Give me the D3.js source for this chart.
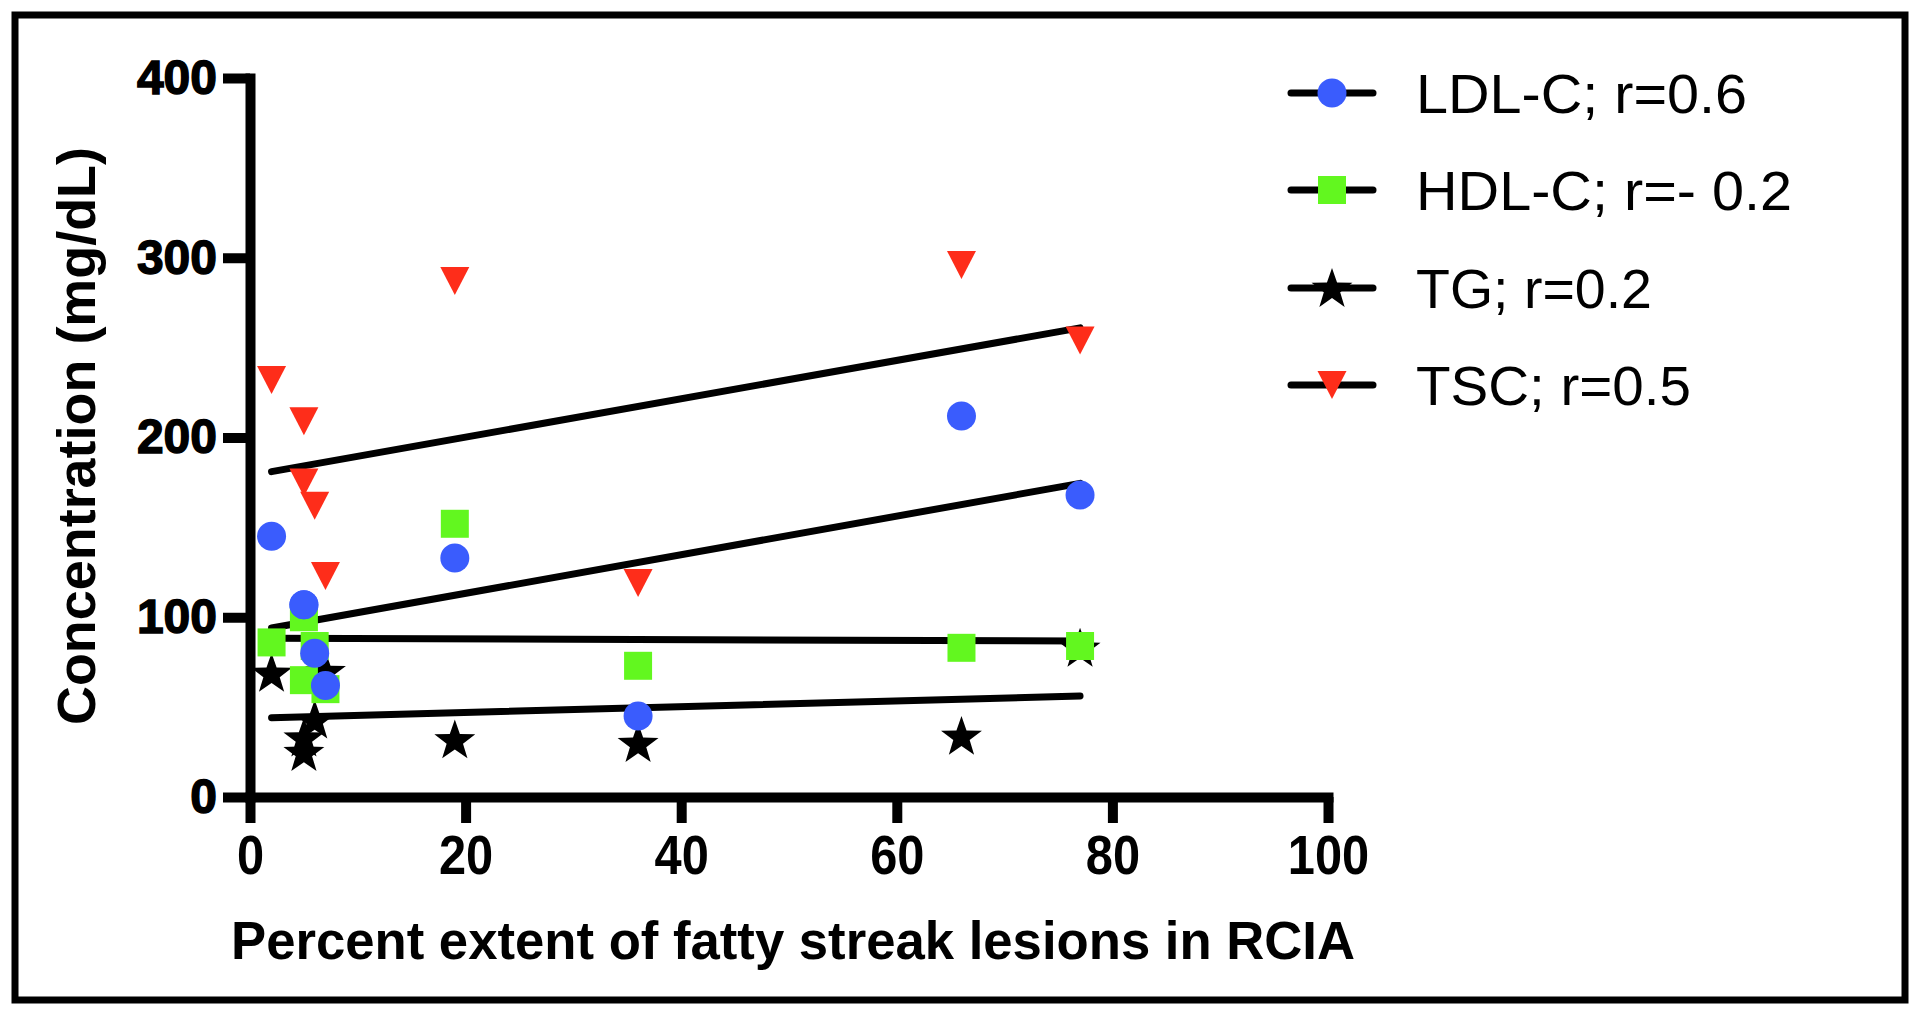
<!DOCTYPE html>
<html><head><meta charset="utf-8">
<script src="https://cdn.jsdelivr.net/npm/d3@7"></script>
<style>body{margin:0;background:#fff} svg{display:block}</style>
</head><body><svg id="c" width="1920" height="1015"></svg>
<script>
// ---- data ----
const xTicks = [0, 20, 40, 60, 80, 100];
const yTicks = [0, 100, 200, 300, 400];
const extent = [2, 5, 5, 6, 7, 19, 36, 66, 77];
const ldl = [145, 107, 107, 80, 62, 133, 45, 212, 168];
const hdl = [86, 100, 65, 84, 60, 152, 73, 83, 84];
const tg  = [69, 33, 25, 43, 70, 32, 30, 34, 83];
const tsc = [232, 209, 175, 162, 123, 287, 119, 296, 254];
const seriesNames = ["LDL-C; r=0.6", "HDL-C; r=- 0.2", "TG; r=0.2", "TSC; r=0.5"];
const fitX = [2, 77];
const ldlFit = [94, 174.5];
const hdlFit = [88.3, 86.8];
const tgFit  = [44.1, 56.2];
const tscFit = [181, 261];
const xTitle = "Percent extent of fatty streak lesions in RCIA";
const yTitle = "Concentration (mg/dL)";

// ---- chart ----
const svg = d3.select("#c");
const FONT = "'Liberation Sans', Arial, sans-serif";
svg.append("rect").attr("x",0).attr("y",0).attr("width",1920).attr("height",1015).attr("fill","#fff");
svg.append("rect").attr("x",15).attr("y",15).attr("width",1890).attr("height",985)
   .attr("fill","none").attr("stroke","#000").attr("stroke-width",7);

const x = d3.scaleLinear().domain([0,100]).range([250,1328]);
const y = d3.scaleLinear().domain([0,400]).range([797,78]);

const colors = {ldl:"#3a5cfd", hdl:"#62f71f", tg:"#000000", tsc:"#fe2d1a"};

function shapePath(kind){
  if(kind==="circle") return d3.symbol().type(d3.symbolCircle).size(Math.PI*14.5*14.5)();
  if(kind==="square") return "M-14,-14H14V14H-14Z";
  if(kind==="tri") return "M-14.5,-14L14.5,-14L0,14Z";
  if(kind==="star"){
    const R=21.5, r=8.6; let p=[];
    for(let i=0;i<10;i++){const a=-Math.PI/2+i*Math.PI/5; const rr=i%2?r:R; p.push([rr*Math.cos(a), rr*Math.sin(a)+1.5]);}
    return "M"+p.map(d=>d[0].toFixed(2)+","+d[1].toFixed(2)).join("L")+"Z";
  }
}

const series = [
  {key:"ldl", vals:ldl, fit:ldlFit, shape:"circle", name:seriesNames[0]},
  {key:"hdl", vals:hdl, fit:hdlFit, shape:"square", name:seriesNames[1]},
  {key:"tg",  vals:tg,  fit:tgFit,  shape:"star",   name:seriesNames[2]},
  {key:"tsc", vals:tsc, fit:tscFit, shape:"tri",    name:seriesNames[3]}
];

// fit lines
const lineG = svg.append("g");
series.forEach(s=>{
  lineG.append("line")
    .attr("x1",x(fitX[0])).attr("y1",y(s.fit[0]))
    .attr("x2",x(fitX[1])).attr("y2",y(s.fit[1]))
    .attr("stroke","#000").attr("stroke-width",7).attr("stroke-linecap","round");
});

// axes
const yAxis = d3.axisLeft(y).tickValues(yTicks).tickSize(27).tickSizeOuter(0).tickPadding(6);
const xAxis = d3.axisBottom(x).tickValues(xTicks).tickSize(26).tickSizeOuter(0).tickPadding(11);

const gy = svg.append("g").attr("transform","translate(250,0)").call(yAxis);
const gx = svg.append("g").attr("transform","translate(0,797)").call(xAxis);
[gy,gx].forEach(g=>{
  g.select(".domain").attr("stroke","#000").attr("stroke-width",10).attr("stroke-linecap","square");
  g.selectAll(".tick line").attr("stroke","#000").attr("stroke-width",10);
});
gy.selectAll(".tick text").attr("font-family",FONT).attr("font-weight","bold")
  .attr("font-size",48).attr("fill","#000").attr("stroke","#000").attr("stroke-width",1.4);
gx.selectAll(".tick text").attr("font-family",FONT).attr("font-weight","bold")
  .attr("font-size",56).attr("fill","#000").attr("transform","scale(0.87,1)");

// points (draw order: TSC, TG, HDL, LDL)
const ptG = svg.append("g");
series.slice().reverse().forEach(s=>{
  ptG.append("g").selectAll("path").data(s.vals).join("path")
    .attr("d", shapePath(s.shape))
    .attr("transform",(d,i)=>`translate(${x(extent[i])},${y(d)})`)
    .attr("fill", colors[s.key]);
});

// axis titles
svg.append("text").attr("x",793).attr("y",959).attr("text-anchor","middle")
  .attr("font-family",FONT).attr("font-weight","bold").attr("font-size",54)
  .attr("textLength",1124).attr("lengthAdjust","spacingAndGlyphs").text(xTitle);
svg.append("text").attr("transform","translate(95,436) rotate(-90)").attr("text-anchor","middle")
  .attr("font-family",FONT).attr("font-weight","bold").attr("font-size",54)
  .attr("textLength",578).attr("lengthAdjust","spacingAndGlyphs").text(yTitle);

// legend
const legY = [93, 190, 288, 385];
const legW = [331, 376, 236, 275];
const legG = svg.append("g");
series.forEach((s,i)=>{
  const g = legG.append("g").attr("transform",`translate(0,${legY[i]})`);
  g.append("line").attr("x1",1291).attr("x2",1373).attr("y1",0).attr("y2",0)
    .attr("stroke","#000").attr("stroke-width",7).attr("stroke-linecap","round");
  g.append("path").attr("d",shapePath(s.shape)).attr("transform","translate(1332,0)").attr("fill",colors[s.key]);
  g.append("text").attr("x",1416).attr("y",20).attr("font-family",FONT).attr("font-size",55)
    .attr("textLength",legW[i]).attr("lengthAdjust","spacingAndGlyphs").attr("fill","#000").text(s.name);
});
</script></body></html>
